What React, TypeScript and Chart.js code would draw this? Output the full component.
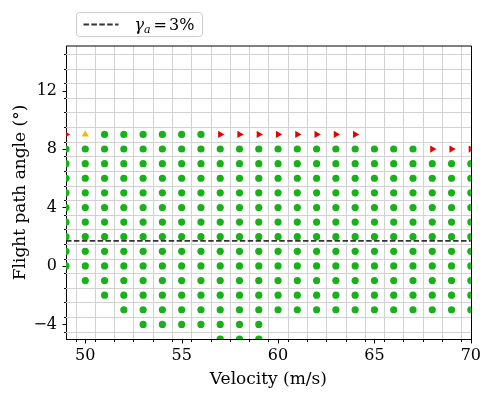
import React, { useEffect, useRef } from 'react';
import { Chart, registerables } from 'chart.js';

Chart.register(...registerables);

// ---------- data ----------
const velocities = [49, 50, 51, 52, 53, 54, 55, 56, 57, 58, 59, 60, 61, 62, 63, 64, 65, 66, 67, 68, 69, 70];
const angles = [9, 8, 7, 6, 5, 4, 3, 2, 1, 0, -1, -2, -3, -4, -5];
// one string per angle row, one char per velocity (groups of 5 separated by spaces)
// G = green circle, R = red right-pointing triangle, Y = yellow up triangle, . = nothing
const statusRows = [
  'RYGGG GGGRR RRRRR R.... ..', // 9
  'GGGGG GGGGG GGGGG GGGGR RR', // 8
  'GGGGG GGGGG GGGGG GGGGG GG', // 7
  'GGGGG GGGGG GGGGG GGGGG GG', // 6
  'GGGGG GGGGG GGGGG GGGGG GG', // 5
  'GGGGG GGGGG GGGGG GGGGG GG', // 4
  'GGGGG GGGGG GGGGG GGGGG GG', // 3
  'GGGGG GGGGG GGGGG GGGGG GG', // 2
  'GGGGG GGGGG GGGGG GGGGG GG', // 1
  'GGGGG GGGGG GGGGG GGGGG GG', // 0
  '.GGGG GGGGG GGGGG GGGGG GG', // -1
  '..GGG GGGGG GGGGG GGGGG GG', // -2
  '...GG GGGGG GGGGG GGGGG GG', // -3
  '....G GGGGG G.... ..... ..', // -4
  '..... ...GG G.... ..... ..', // -5
];
const GAMMA_A_PERCENT = 3; // climb gradient of the dashed reference line
const xMajorTicks = [50, 55, 60, 65, 70];
const yMajorTicks = [-4, 0, 4, 8, 12];
const X_MIN = 49;
const X_MAX = 70;
const Y_MIN = -5;
const Y_MAX = 15.05;

// ---------- styles ----------
const GREEN = '#19b119';
const RED = '#e60000';
const YELLOW = '#f5b700';
const GRID = '#d2d2d2';
const FONT = 'DejaVu Serif';
const FONT_SIZE = 16;
const TITLE_SIZE = 17;

type Pt = { x: number; y: number };

function buildPoints() {
  const circles: Pt[] = [];
  const right: Pt[] = [];
  const up: Pt[] = [];
  statusRows.forEach((row, r) => {
    const cells = row.replace(/ /g, '').split('');
    cells.forEach((c, i) => {
      const p = { x: velocities[i], y: angles[r] };
      if (c === 'G') circles.push(p);
      else if (c === 'R') right.push(p);
      else if (c === 'Y') up.push(p);
    });
  });
  return { circles, right, up };
}

function buildTicks(min: number, max: number, majors: number[]) {
  const ticks: any[] = majors.map((v) => ({ value: v, minor: false }));
  for (let k = Math.floor(min); k < Math.ceil(max); k++) {
    const v = k + 0.5;
    if (v > min && v < max) ticks.push({ value: v, minor: true });
  }
  ticks.sort((a, b) => a.value - b.value);
  return ticks;
}

const fmt = (v: number) => (v < 0 ? '\u2212' + Math.abs(v) : String(v));

const gridPlugin = {
  id: 'mplGrid',
  beforeDatasetsDraw(chart: any) {
    const { ctx, chartArea, scales } = chart;
    ctx.save();
    ctx.strokeStyle = GRID;
    ctx.lineWidth = 1;
    ctx.beginPath();
    for (const t of scales.x.ticks) {
      if (!t.minor) continue;
      const px = Math.round(scales.x.getPixelForValue(t.value)) + 0.5;
      ctx.moveTo(px, chartArea.top);
      ctx.lineTo(px, chartArea.bottom);
    }
    for (const t of scales.y.ticks) {
      if (!t.minor) continue;
      const py = Math.round(scales.y.getPixelForValue(t.value)) + 0.5;
      ctx.moveTo(chartArea.left, py);
      ctx.lineTo(chartArea.right, py);
    }
    ctx.stroke();
    ctx.restore();
  },
};

const framePlugin = {
  id: 'frameAndLegend',
  afterDraw(chart: any) {
    const { ctx, chartArea, scales } = chart;
    ctx.save();
    // tick marks (major longer than minor)
    ctx.strokeStyle = '#000';
    ctx.lineWidth = 1;
    ctx.beginPath();
    const bottom = Math.round(chartArea.bottom) + 1;
    for (const t of scales.x.ticks) {
      const len = t.minor ? 2 : 3.5;
      const px = Math.round(scales.x.getPixelForValue(t.value)) + 0.5;
      ctx.moveTo(px, bottom);
      ctx.lineTo(px, bottom + len);
    }
    const left = Math.round(chartArea.left);
    for (const t of scales.y.ticks) {
      const len = t.minor ? 2 : 3.5;
      const py = Math.round(scales.y.getPixelForValue(t.value)) + 0.5;
      ctx.moveTo(left, py);
      ctx.lineTo(left - len, py);
    }
    ctx.stroke();

    // top and right spines
    ctx.beginPath();
    ctx.moveTo(Math.round(chartArea.left), Math.round(chartArea.top));
    ctx.lineTo(Math.round(chartArea.right) + 0.5, Math.round(chartArea.top));
    ctx.stroke();
    ctx.beginPath();
    ctx.moveTo(Math.round(chartArea.right) + 0.5, Math.round(chartArea.top));
    ctx.lineTo(Math.round(chartArea.right) + 0.5, Math.round(chartArea.bottom) + 1);
    ctx.stroke();

    // legend box
    const ds = chart.data.datasets[0];
    const bx = chartArea.left + 10.5;
    const by = 12.5;
    const bw = 126;
    const bh = 24;
    const rr = 3;
    ctx.beginPath();
    ctx.moveTo(bx + rr, by);
    ctx.lineTo(bx + bw - rr, by);
    ctx.arcTo(bx + bw, by, bx + bw, by + rr, rr);
    ctx.lineTo(bx + bw, by + bh - rr);
    ctx.arcTo(bx + bw, by + bh, bx + bw - rr, by + bh, rr);
    ctx.lineTo(bx + rr, by + bh);
    ctx.arcTo(bx, by + bh, bx, by + bh - rr, rr);
    ctx.lineTo(bx, by + rr);
    ctx.arcTo(bx, by, bx + rr, by, rr);
    ctx.closePath();
    ctx.fillStyle = 'rgba(255,255,255,0.8)';
    ctx.fill();
    ctx.strokeStyle = '#cccccc';
    ctx.stroke();

    const cy = by + bh / 2;
    ctx.beginPath();
    ctx.setLineDash(ds.borderDash);
    ctx.strokeStyle = ds.borderColor;
    ctx.lineWidth = ds.borderWidth;
    ctx.moveTo(bx + 7, cy);
    ctx.lineTo(bx + 42, cy);
    ctx.stroke();
    ctx.setLineDash([]);

    // label: gamma_a = 3%
    ctx.fillStyle = '#000';
    ctx.textBaseline = 'alphabetic';
    ctx.textAlign = 'left';
    const base = cy + 5;
    let tx = bx + 58;
    ctx.font = `italic ${FONT_SIZE}px ${FONT}`;
    ctx.fillText('\u03b3', tx, base);
    tx += ctx.measureText('\u03b3').width;
    ctx.font = `italic 11px ${FONT}`;
    ctx.fillText('a', tx, base + 3);
    tx += ctx.measureText('a').width + 3;
    ctx.font = `${FONT_SIZE}px ${FONT}`;
    ctx.fillText('=', tx, base);
    tx += ctx.measureText('=').width + 2;
    ctx.fillText(`${GAMMA_A_PERCENT}%`, tx, base);
    ctx.restore();
  },
};

export default function App() {
  const ref = useRef<HTMLCanvasElement | null>(null);

  useEffect(() => {
    document.body.style.margin = '0';
    const canvas = ref.current;
    if (!canvas) return;
    const { circles, right, up } = buildPoints();
    const gammaDeg = (Math.atan(GAMMA_A_PERCENT / 100) * 180) / Math.PI;

    const tickFont = { family: FONT, size: FONT_SIZE };
    const titleFont = { family: FONT, size: TITLE_SIZE };
    const gridOpts = {
      drawOnChartArea: false,
      drawTicks: true,
      tickLength: 4,
      tickColor: 'rgba(0,0,0,0)',
    };

    const chart = new Chart(canvas, {
      type: 'scatter',
      data: {
        datasets: [
          {
            type: 'line',
            label: '\u03b3a = 3%',
            data: [
              { x: X_MIN, y: gammaDeg },
              { x: X_MAX, y: gammaDeg },
            ],
            borderColor: '#333333',
            borderWidth: 1.8,
            borderDash: [5.5, 2.4],
            pointRadius: 0,
            fill: false,
            clip: 0,
            order: 0,
          } as any,
          {
            label: 'circle',
            data: circles,
            pointStyle: 'circle',
            pointRadius: 3.6,
            backgroundColor: GREEN,
            borderWidth: 0,
            clip: 0,
            order: 1,
          } as any,
          {
            label: 'right',
            data: right,
            pointStyle: 'triangle',
            rotation: 90,
            pointRadius: 4.2,
            backgroundColor: RED,
            borderWidth: 0,
            clip: 0,
            order: 1,
          } as any,
          {
            label: 'up',
            data: up,
            pointStyle: 'triangle',
            pointRadius: 4.1,
            backgroundColor: YELLOW,
            borderWidth: 0,
            clip: 0,
            order: 1,
          } as any,
        ],
      },
      options: {
        animation: false,
        responsive: false,
        events: [],
        layout: { padding: { top: 46, right: 10, left: 0, bottom: 0 } },
        plugins: {
          legend: { display: false },
          tooltip: { enabled: false },
        },
        scales: {
          x: {
            type: 'linear',
            min: X_MIN,
            max: X_MAX,
            afterBuildTicks: (s: any) => {
              s.ticks = buildTicks(X_MIN, X_MAX, xMajorTicks);
            },
            afterFit: (s: any) => {
              s.height = 57;
            },
            grid: gridOpts,
            border: { color: '#000', width: 1 },
            ticks: {
              autoSkip: false,
              maxRotation: 0,
              padding: 3,
              color: '#000',
              font: tickFont,
              callback: (v: any, i: number, ticks: any[]) => (ticks[i] && ticks[i].minor ? '' : fmt(v)),
            },
            title: {
              display: true,
              text: 'Velocity (m/s)',
              color: '#000',
              font: titleFont,
              padding: { top: 0, bottom: 6.5 },
            },
          },
          y: {
            type: 'linear',
            min: Y_MIN,
            max: Y_MAX,
            afterBuildTicks: (s: any) => {
              s.ticks = buildTicks(Y_MIN, Y_MAX, yMajorTicks);
            },
            afterFit: (s: any) => {
              s.width = 66;
            },
            grid: gridOpts,
            border: { color: '#000', width: 1 },
            ticks: {
              autoSkip: false,
              padding: 5,
              color: '#000',
              font: tickFont,
              callback: (v: any, i: number, ticks: any[]) => (ticks[i] && ticks[i].minor ? '' : fmt(v)),
            },
            title: {
              display: true,
              text: 'Flight path angle (\u00b0)',
              color: '#000',
              font: titleFont,
              padding: { top: 10, bottom: 0 },
            },
          },
        },
      },
      plugins: [gridPlugin, framePlugin],
    } as any);

    return () => chart.destroy();
  }, []);

  return (
    <div style={{ width: 484, height: 396 }}>
      <canvas ref={ref} width={484} height={396} style={{ display: 'block' }} />
    </div>
  );
}
